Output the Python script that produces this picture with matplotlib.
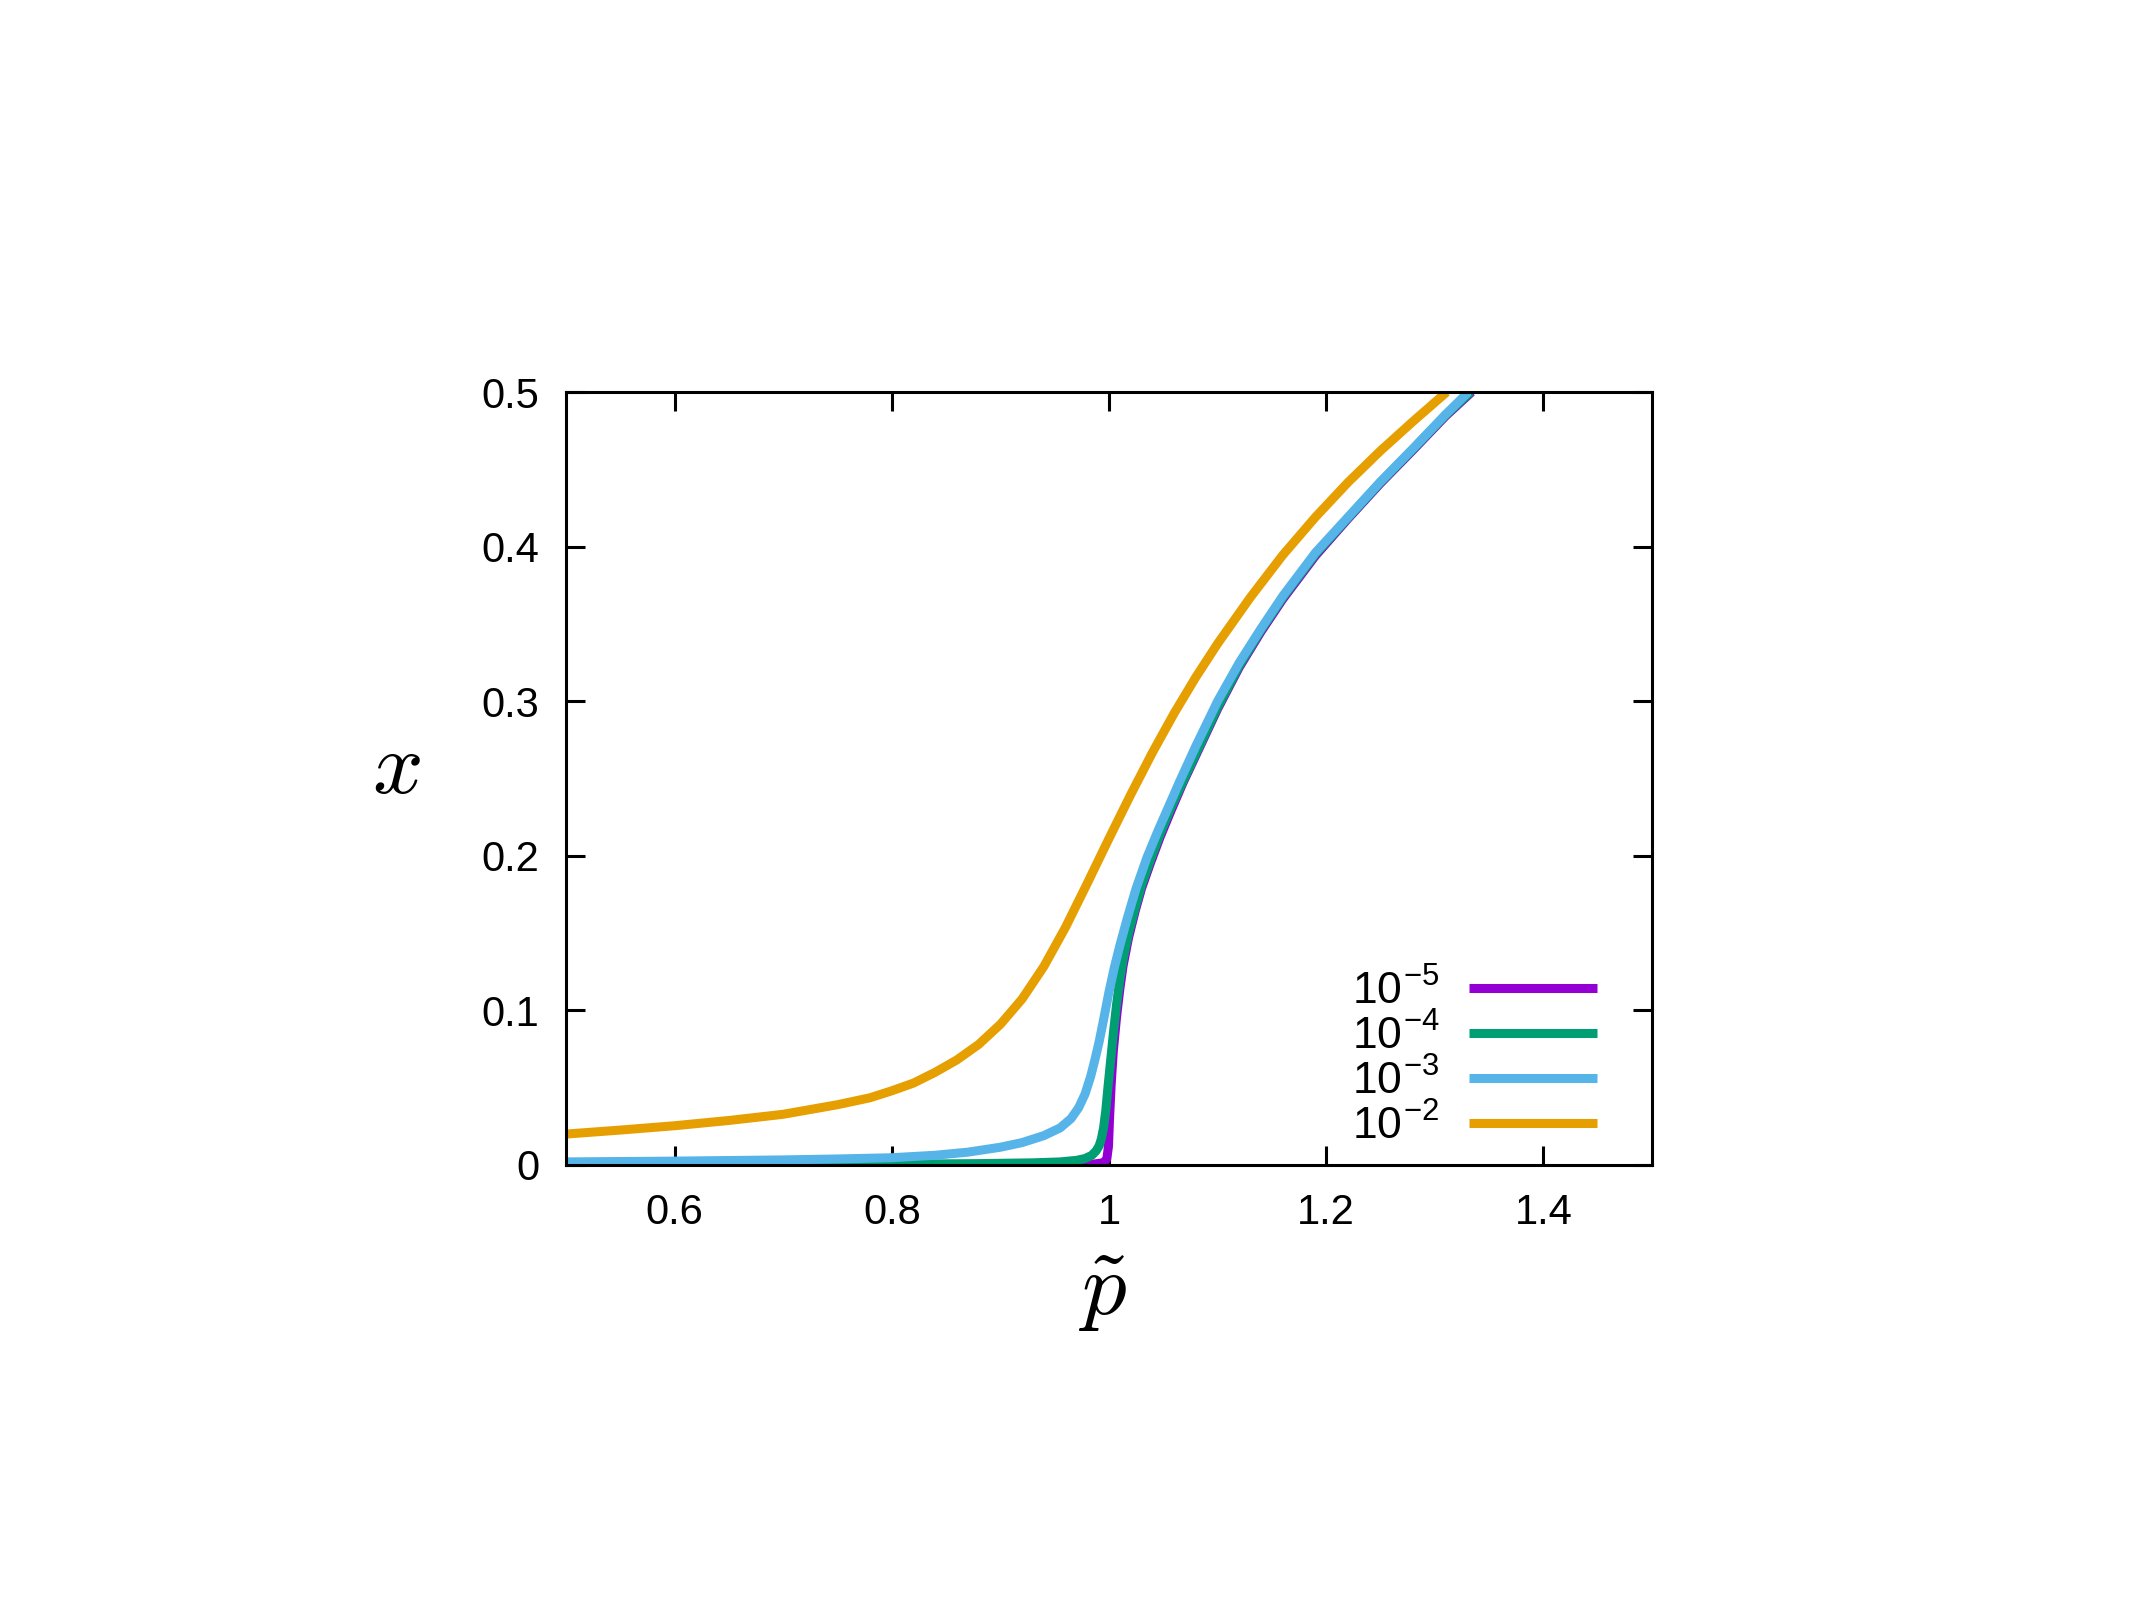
import matplotlib
matplotlib.use('Agg')
from matplotlib import pyplot as plt

# values
p_h5 = [0.50, 0.95, 0.985, 0.995, 0.998, 0.9995, 1.0005, 1.002, 1.004, 1.007, 1.010, 1.013,
        1.018, 1.024, 1.030, 1.038, 1.047, 1.057, 1.068, 1.080, 1.100, 1.120, 1.140, 1.160,
        1.190, 1.220, 1.250, 1.280, 1.310, 1.334]
x_h5 = [0.0, 0.0001, 0.0005, 0.0015, 0.004, 0.012, 0.030, 0.052, 0.074, 0.096, 0.114, 0.129,
        0.147, 0.164, 0.179, 0.195, 0.212, 0.229, 0.247, 0.265, 0.295, 0.322, 0.345, 0.366,
        0.394, 0.418, 0.441, 0.4625, 0.4845, 0.500]

p_h4 = [0.50, 0.70, 0.80, 0.88, 0.93, 0.955, 0.970, 0.978, 0.984, 0.988, 0.991, 0.993,
        0.995, 0.997, 0.999, 1.001, 1.004, 1.007, 1.010, 1.013, 1.018, 1.024, 1.030, 1.038,
        1.047, 1.057, 1.068, 1.080, 1.100, 1.120, 1.140, 1.160, 1.190, 1.220, 1.250, 1.280,
        1.310, 1.333]
x_h4 = [0.0002, 0.0003, 0.0005, 0.0009, 0.0014, 0.002, 0.003, 0.0042, 0.0062, 0.009, 0.0125,
        0.017, 0.024, 0.035, 0.050, 0.064, 0.085, 0.104, 0.120, 0.133, 0.150, 0.166, 0.181,
        0.197, 0.214, 0.231, 0.248, 0.266, 0.296, 0.323, 0.346, 0.367, 0.395, 0.4185, 0.4415,
        0.463, 0.485, 0.500]

p_h3 = [0.50, 0.60, 0.70, 0.75, 0.80, 0.84, 0.87, 0.90, 0.92, 0.94, 0.955, 0.965, 0.972,
        0.978, 0.983, 0.987, 0.991, 0.995, 1.000, 1.005, 1.010, 1.017, 1.025, 1.035, 1.045,
        1.055, 1.065, 1.080, 1.100, 1.120, 1.140, 1.160, 1.190, 1.220, 1.250, 1.280, 1.310,
        1.331]
x_h3 = [0.0020, 0.0025, 0.0033, 0.0039, 0.0047, 0.0063, 0.0083, 0.0115, 0.0145, 0.019,
        0.024, 0.030, 0.037, 0.046, 0.057, 0.068, 0.080, 0.094, 0.112, 0.128, 0.142, 0.160,
        0.179, 0.199, 0.216, 0.232, 0.248, 0.271, 0.300, 0.325, 0.347, 0.368, 0.396, 0.419,
        0.442, 0.4635, 0.4855, 0.500]

p_h2 = [0.50, 0.55, 0.60, 0.65, 0.70, 0.75, 0.78, 0.80, 0.82, 0.84, 0.86, 0.88, 0.90,
        0.92, 0.94, 0.96, 0.98, 1.00, 1.02, 1.04, 1.06, 1.08, 1.10, 1.13, 1.16, 1.19,
        1.22, 1.25, 1.28, 1.311]
x_h2 = [0.020, 0.0226, 0.0254, 0.0288, 0.0328, 0.039, 0.0435, 0.048, 0.053, 0.060, 0.068,
        0.078, 0.091, 0.1074, 0.1284, 0.1538, 0.1822, 0.2112, 0.2396, 0.2668, 0.2922, 0.3156,
        0.3372, 0.367, 0.3945, 0.419, 0.4415, 0.462, 0.481, 0.500]

labels = ['10$^{\\mathregular{-5}}$', '10$^{\\mathregular{-4}}$',
          '10$^{\\mathregular{-3}}$', '10$^{\\mathregular{-2}}$']
colors = ['#9400d3', '#009e73', '#56b4e9', '#e69f00']

xticks = [0.6, 0.8, 1.0, 1.2, 1.4]
xtick_labels = ['0.6', '0.8', '1', '1.2', '1.4']
yticks = [0, 0.1, 0.2, 0.3, 0.4, 0.5]
ytick_labels = ['0', '0.1', '0.2', '0.3', '0.4', '0.5']

plt.rcParams['font.family'] = ['Liberation Sans', 'DejaVu Sans']
plt.rcParams['mathtext.fontset'] = 'cm'

W, H = 2134, 1600
fig = plt.figure(figsize=(W / 100, H / 100), dpi=100)
ax = fig.add_axes([566 / W, 435 / H, 1086 / W, 773 / H])

for p, x, c, lab in zip([p_h5, p_h4, p_h3, p_h2], [x_h5, x_h4, x_h3, x_h2], colors, labels):
    ax.plot(p, x, color=c, lw=6.5, label=lab, solid_capstyle='butt')

ax.set_xlim(0.5, 1.5)
ax.set_ylim(0, 0.5)
ax.set_xticks(xticks)
ax.set_xticklabels(xtick_labels)
ax.set_yticks(yticks)
ax.set_yticklabels(ytick_labels)
ax.tick_params(direction='in', length=13.5, width=2.2, top=True, right=True, labelsize=30)
ax.tick_params(axis='x', pad=20)
ax.tick_params(axis='y', pad=19)
for s in ax.spines.values():
    s.set_linewidth(2.2)

ax.set_xlabel(r'$\tilde{p}$', fontsize=64)
ax.xaxis.set_label_coords(0.494, -0.11)
ax.set_ylabel(r'$x$', fontsize=64, rotation=0, va='center', ha='center')
ax.yaxis.set_label_coords(-0.156, 0.511)

ax.legend(loc='lower right', bbox_to_anchor=(0.9494, 0.022), frameon=False, markerfirst=False,
          fontsize=32, handlelength=2.88, handletextpad=0.66, labelspacing=0.04,
          borderaxespad=0, borderpad=0)

fig.savefig('out.png', dpi=100)
